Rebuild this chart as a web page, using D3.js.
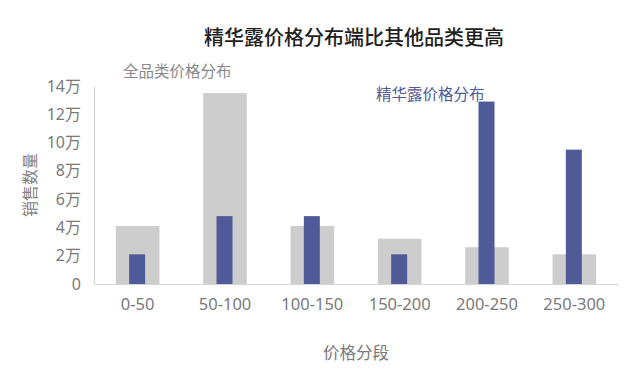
<!DOCTYPE html>
<html><head><meta charset="utf-8">
<script src="https://cdn.jsdelivr.net/npm/d3@7"></script>
<style>
html,body{margin:0;padding:0;background:#fff;}
text{font-family:"Noto Sans CJK SC","Noto Sans",sans-serif;}
</style></head>
<body><svg id="c" width="640" height="380"></svg>
<script>
const categories = ["0-50","50-100","100-150","150-200","200-250","250-300"];
const allValues = [4.1, 13.5, 4.1, 3.2, 2.6, 2.1];      // 全品类 (万)
const serumValues = [2.1, 4.8, 4.8, 2.1, 12.9, 9.5];    // 精华露 (万)
const yTicks = [0, 2, 4, 6, 8, 10, 12, 14];
const yTickLabels = ["0","2万","4万","6万","8万","10万","12万","14万"];

const svg = d3.select("#c");
const mLeft = 94, mRight = 618, mTop = 86, mBottom = 284;

const x = d3.scaleBand().domain(categories).range([mLeft, mRight]);
const y = d3.scaleLinear().domain([0, 14]).range([mBottom, mTop]);

const greyW = x.bandwidth() * 0.5;
const blueW = 16;

svg.append("g").selectAll("rect").data(categories).join("rect")
  .attr("x", d => x(d) + x.bandwidth()/2 - greyW/2)
  .attr("y", (d,i) => y(allValues[i]))
  .attr("width", greyW)
  .attr("height", (d,i) => y(0) - y(allValues[i]))
  .attr("fill", "#cdcdcd");

svg.append("g").selectAll("rect").data(categories).join("rect")
  .attr("x", d => x(d) + x.bandwidth()/2 - blueW/2 - 0.5)
  .attr("y", (d,i) => y(serumValues[i]))
  .attr("width", blueW)
  .attr("height", (d,i) => y(0) - y(serumValues[i]))
  .attr("fill", "#4f5b98");

// axes
const yAxis = svg.append("g").attr("transform", `translate(${mLeft},0)`)
  .call(d3.axisLeft(y).tickValues(yTicks).tickFormat((d,i) => yTickLabels[i]).tickSize(0).tickPadding(13));
yAxis.select(".domain").attr("stroke", "#d6d6d6").attr("stroke-width", 1.2);
yAxis.selectAll("text").attr("fill", "#7a7a7a").style("font-size", "16px")
  .style("font-family", '"Noto Sans","Noto Sans CJK SC",sans-serif');

const xAxis = svg.append("g").attr("transform", `translate(0,${mBottom})`)
  .call(d3.axisBottom(x).tickSize(0).tickPadding(14));
xAxis.select(".domain").attr("stroke", "#d6d6d6").attr("stroke-width", 1.2);
xAxis.selectAll("text").attr("fill", "#7a7a7a").style("font-size", "16.5px")
  .style("font-family", '"Noto Sans","Noto Sans CJK SC",sans-serif');

// title and labels
svg.append("text").attr("x", 354).attr("y", 36).attr("text-anchor", "middle")
  .attr("dominant-baseline", "central")
  .style("font-size", "20px").style("font-weight", "500").attr("fill", "#1e1e1e")
  .text("精华露价格分布端比其他品类更高");

svg.append("text").attr("x", 123).attr("y", 70).attr("dominant-baseline", "central")
  .style("font-size", "15.5px").attr("fill", "#8a8a8a").text("全品类价格分布");

svg.append("text").attr("x", 376).attr("y", 93).attr("dominant-baseline", "central")
  .style("font-size", "15.5px").attr("fill", "#4f5b98").text("精华露价格分布");

svg.append("text").attr("transform", "translate(29,185) rotate(-90)")
  .attr("text-anchor", "middle").attr("dominant-baseline", "central")
  .style("font-size", "16px").attr("fill", "#7f7f7f").text("销售数量");

svg.append("text").attr("x", 356).attr("y", 352).attr("text-anchor", "middle")
  .attr("dominant-baseline", "central")
  .style("font-size", "16.5px").attr("fill", "#7a7a7a").text("价格分段");
</script></body></html>
